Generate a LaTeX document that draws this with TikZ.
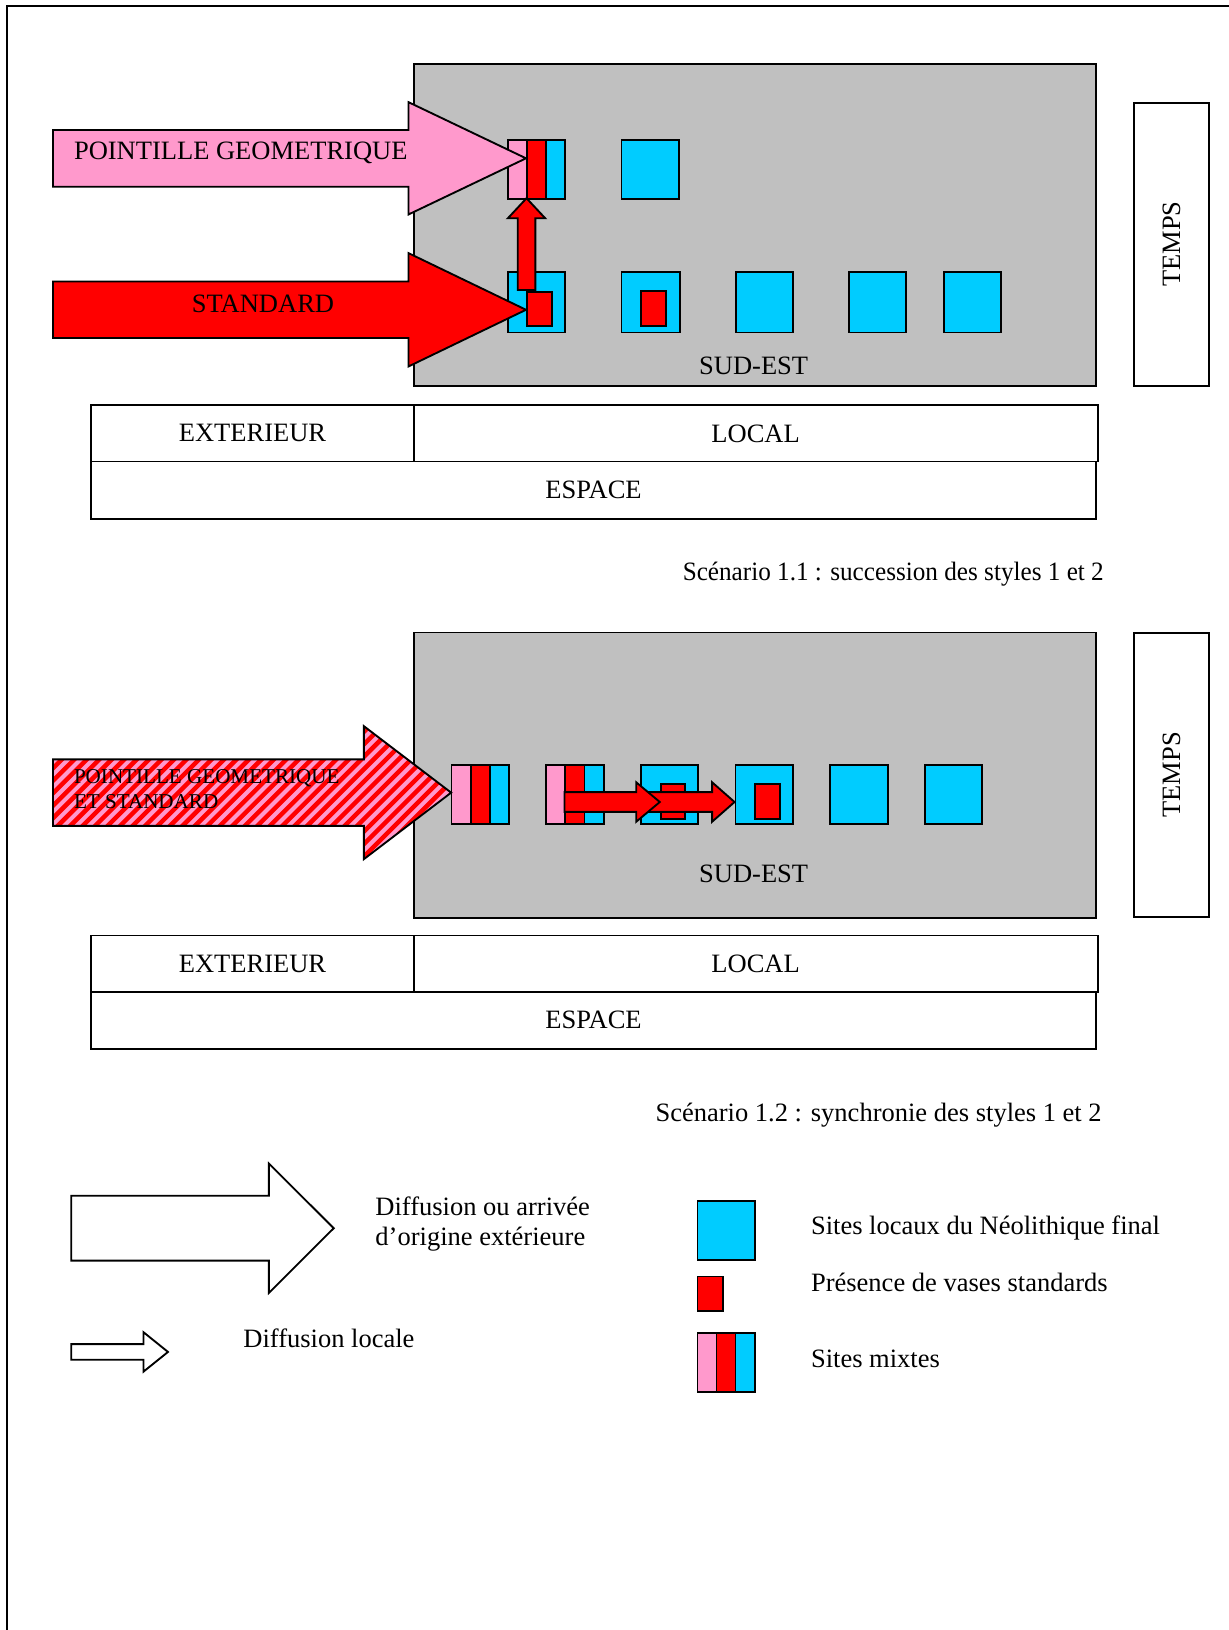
\documentclass[tikz,border=0pt]{standalone}
\usepackage{fontspec}
\setmainfont{Liberation Serif}
\definecolor{cyanc}{HTML}{00CCFF}
\definecolor{pinkc}{HTML}{FF99CC}
\definecolor{grayc}{HTML}{C0C0C0}
\definecolor{redc}{HTML}{FF0000}
\tikzset{
  outl/.style={draw=black, line width=1.8pt, line join=miter},
  graybox/.style={outl, fill=grayc},
  whitebox/.style={outl, fill=white},
  cyansite/.style={outl, fill=cyanc},
  redsite/.style={outl, fill=redc},
  pinksite/.style={outl, fill=pinkc},
  lbl/.style={font=\fontsize{25.5}{30}\selectfont, inner sep=0pt},
  smalllbl/.style={font=\fontsize{20.3}{23}\selectfont, inner sep=0pt},
}
% name, style, x1, y1, x2, y2, text
\newcommand\rbox[7]{\node[#2, anchor=north west, inner sep=0pt, minimum width={(#5)-(#3)}, minimum height={(#6)-(#4)}] (#1) at (#3,#4) {#7};}
% name, x1, y1, x2, y2
\newcommand\mixsite[5]{%
  \pgfmathsetmacro\mxa{#2+(#4-#2)/3}%
  \pgfmathsetmacro\mxb{#2+2*(#4-#2)/3}%
  \rbox{#1p}{pinksite}{#2}{#3}{\mxa}{#5}{}%
  \rbox{#1r}{redsite}{\mxa}{#3}{\mxb}{#5}{}%
  \rbox{#1c}{cyansite}{\mxb}{#3}{#4}{#5}{}}
% style, x0, x1, x2, yc, half shaft, half head
\newcommand\harrow[7]{\draw[#1] (#2,#5-#6) -- (#3,#5-#6) -- (#3,#5-#7) -- (#4,#5) -- (#3,#5+#7) -- (#3,#5+#6) -- (#2,#5+#6) -- cycle;}
\newcommand\harrowclip[6]{\clip (#1,#4-#5) -- (#2,#4-#5) -- (#2,#4-#6) -- (#3,#4) -- (#2,#4+#6) -- (#2,#4+#5) -- (#1,#4+#5) -- cycle;}
\begin{document}
\begin{tikzpicture}[x=1pt,y=-1pt]
\useasboundingbox (0,0) rectangle (1182,1568);
% page frame
\draw[line width=2pt] (7,1568) -- (7,6) -- (1182,6);

% ================= Scenario 1.1 =================
\rbox{gray1}{graybox}{397}{61}{1053}{370.5}{}
\node[lbl, anchor=base] (sudest1) at (725,360.7) {SUD-EST};
\rbox{temps1}{whitebox}{1090}{98}{1162}{370}{}
\node[lbl, rotate=90] (tempst1) at (temps1.center) {TEMPS};
% top row
\mixsite{ma}{488}{134}{543}{190.5}
\rbox{ca}{cyansite}{597}{134}{652}{190.5}{}
% bottom row
\rbox{ba}{cyansite}{488}{261}{543}{319}{}
\rbox{bb}{cyansite}{597}{261}{653}{319}{}
\rbox{bbr}{redsite}{615.5}{279}{640}{313}{}
\rbox{bc}{cyansite}{707}{261}{762}{319}{}
\rbox{bd}{cyansite}{816}{261}{871}{319}{}
\rbox{be}{cyansite}{907}{261}{962}{319}{}
% incoming arrows
\harrow{redsite}{51}{393}{506}{298}{27.2}{54.5}
\rbox{bar}{redsite}{506}{280}{530}{312.6}{}
\harrow{pinksite}{51}{393}{506}{152.3}{27.3}{54}
\node[lbl, anchor=base west] (pgtext) at (71,153.9) {POINTILLE GEOMETRIQUE};
\node[lbl, anchor=base] (sttext) at (253,300.4) {STANDARD};
% local vertical arrow
\draw[redsite] (498,279) -- (498,210) -- (488.5,210) -- (506.5,190.7) -- (524.5,210) -- (515,210) -- (515,279) -- cycle;
% space table
\rbox{ext1}{whitebox,lbl}{87}{389}{397}{443}{EXTERIEUR}
\rbox{loc1}{whitebox,lbl}{397}{389}{1055}{443}{LOCAL}
\rbox{esp1}{whitebox,lbl}{87}{443}{1053}{498}{ESPACE}
\node[lbl, anchor=base east, xscale=0.95] (cap1) at (1062,558) {Scénario 1.1 : succession des styles 1 et 2};

% ================= Scenario 1.2 =================
\rbox{gray2}{graybox}{397}{607.5}{1053}{882.5}{}
\node[lbl, anchor=base] (sudest2) at (725,848.6) {SUD-EST};
\rbox{temps2}{whitebox}{1090}{608}{1162}{881}{}
\node[lbl, rotate=90] (tempst2) at (temps2.center) {TEMPS};
\mixsite{mb}{433.4}{735}{488.8}{792}
\mixsite{mc}{524.5}{735}{579.8}{792}
\rbox{sc}{cyansite}{615.5}{735}{670.8}{792}{}
\rbox{scr}{redsite}{634.7}{753}{657.8}{787}{}
\rbox{sd}{cyansite}{706.6}{735}{761.9}{792}{}
\rbox{sdr}{redsite}{725}{753}{749.3}{787}{}
\rbox{se}{cyansite}{797.6}{735}{853}{792}{}
\rbox{sf}{cyansite}{888.6}{735}{944}{792}{}
% local arrows
\harrow{redsite}{617}{685}{706.6}{771.5}{9.5}{19}
\harrow{redsite}{543}{612}{634.7}{771.5}{9.5}{19}
% striped incoming arrow
\begin{scope}
\harrowclip{51}{350}{434}{762.5}{32}{64}
\fill[pinkc] (40,690) rectangle (440,830);
\foreach \i in {-160,-148,...,450} \draw[redc, line width=4.3pt] (\i,830) -- ++(140,-140);
\end{scope}
\harrow{outl}{51}{350}{434}{762.5}{32}{64}
\node[smalllbl, anchor=base west] (pst1) at (71,754) {POINTILLE GEOMETRIQUE};
\node[smalllbl, anchor=base west] (pst2) at (71,777.4) {ET STANDARD};
% space table
\rbox{ext2}{whitebox,lbl}{87}{899}{397}{953}{EXTERIEUR}
\rbox{loc2}{whitebox,lbl}{397}{899}{1055}{953}{LOCAL}
\rbox{esp2}{whitebox,lbl}{87}{953}{1053}{1008}{ESPACE}
\node[lbl, anchor=base east] (cap2) at (1060,1079) {Scénario 1.2 : synchronie des styles 1 et 2};

% ================= Legend =================
\harrow{whitebox}{68.5}{258.7}{321}{1181.5}{31.2}{62.2}
\node[lbl, anchor=base west] (legA1) at (361,1169) {Diffusion ou arrivée};
\node[lbl, anchor=base west] (legA2) at (361,1198.5) {d’origine extérieure};
\harrow{whitebox}{68.5}{138}{161.6}{1300.5}{7.5}{19}
\node[lbl, anchor=base west] (legB) at (234,1296) {Diffusion locale};
\rbox{lc}{cyansite}{670}{1154}{725}{1211}{}
\rbox{lr}{redsite}{670}{1227}{694.5}{1260}{}
\mixsite{lm}{670}{1281}{725}{1338.5}
\node[lbl, anchor=base west] (legC) at (780,1187.5) {Sites locaux du Néolithique final};
\node[lbl, anchor=base west] (legD) at (780,1242) {Présence de vases standards};
\node[lbl, anchor=base west] (legE) at (780,1315) {Sites mixtes};
\end{tikzpicture}
\end{document}
